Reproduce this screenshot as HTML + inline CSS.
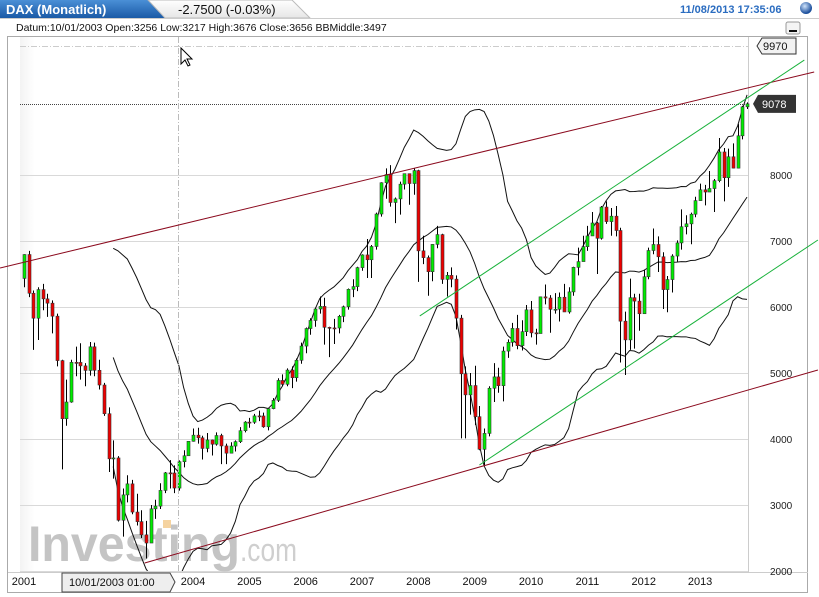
<!DOCTYPE html>
<html><head><meta charset="utf-8"><style>
body{margin:0;background:#fff;font-family:"Liberation Sans",sans-serif;}
#wrap{position:relative;width:819px;height:597px;overflow:hidden;background:#fff}
svg text{font-family:"Liberation Sans",sans-serif}
</style></head><body>
<div id="wrap">
<svg id="svg" width="819" height="597" xmlns="http://www.w3.org/2000/svg">
<defs>
<linearGradient id="tabBlue" x1="0" y1="0" x2="0" y2="1"><stop offset="0" stop-color="#4a8fd6"/><stop offset="1" stop-color="#1a5aa6"/></linearGradient>
<linearGradient id="tabGrey" x1="0" y1="0" x2="0" y2="1"><stop offset="0" stop-color="#ffffff"/><stop offset="1" stop-color="#e6e6e6"/></linearGradient>
<linearGradient id="plotBg" x1="0" y1="0" x2="1" y2="0"><stop offset="0" stop-color="#f3f3f3"/><stop offset="0.02" stop-color="#ffffff"/></linearGradient>
<radialGradient id="ball" cx="0.4" cy="0.35" r="0.6"><stop offset="0" stop-color="#cfe3fb"/><stop offset="1" stop-color="#1b4f9c"/></radialGradient>
<clipPath id="plotClip"><rect x="9" y="37" width="810" height="534"/></clipPath>
</defs>
<path d="M0 0 H148 L165 18 H0 Z" fill="url(#tabBlue)"/>
<text x="6" y="14" fill="#fff" font-size="13" font-weight="bold">DAX (Monatlich)</text>
<path d="M148 0 H292 L310 18 H165 Z" fill="url(#tabGrey)" stroke="#bbb" stroke-width="1"/>
<text x="178" y="14" fill="#111" font-size="13">-2.7500 (-0.03%)</text>
<line x1="0" y1="18.5" x2="819" y2="18.5" stroke="#ccc"/>
<text x="680" y="13" fill="#2a6cc0" font-size="11" font-weight="bold">11/08/2013 17:35:06</text>
<circle cx="806" cy="8" r="6" fill="url(#ball)"/>
<text x="16" y="31" fill="#111" font-size="10.5">Datum:10/01/2003 Open:3256 Low:3217 High:3676 Close:3656 BBMiddle:3497</text>
<rect x="7.5" y="36.5" width="800" height="556" fill="#fff" stroke="#aaa"/>
<rect x="20" y="37" width="728" height="534" fill="url(#plotBg)"/>
<line x1="748.5" y1="37" x2="748.5" y2="572" stroke="#ccc"/>
<line x1="8" y1="572.5" x2="808" y2="572.5" stroke="#ccc"/>
<rect x="786" y="22" width="14" height="12" fill="#f4f4f4" stroke="#999" rx="2"/>
<line x1="789" y1="31" x2="797" y2="31" stroke="#111" stroke-width="2"/>
<g id="grid"></g>
<g>
<rect x="163" y="520" width="8" height="8" fill="#f5d3a0"/>
<text x="28" y="561" font-size="50" font-weight="bold" fill="#c4c4c4" textLength="212" lengthAdjust="spacingAndGlyphs">Investing</text>
<text x="240" y="561" font-size="32" fill="#cfcfcf" textLength="57" lengthAdjust="spacingAndGlyphs">.com</text>
</g>
<g id="marks" clip-path="url(#plotClip)"></g>
<g id="axes"></g>
<line x1="178.5" y1="37" x2="178.5" y2="572" stroke="#bbb" stroke-dasharray="6,2,1,2"/>
<line x1="20" y1="46.5" x2="748" y2="46.5" stroke="#ccc" stroke-dasharray="6,2,1,2"/>
<path d="M181 48 L181 64 L185 60 L188 66 L190 65 L187 59 L192 59 Z" fill="#fff" stroke="#000"/>
<path d="M62 573 H170 L175 582 L170 592 H62 Z" fill="#eee" stroke="#444"/>
<text x="69" y="586" font-size="11" fill="#111">10/01/2003 01:00</text>
<path d="M757 46 L762 38 H796 V54 H762 Z" fill="#f2f2f2" stroke="#333"/>
<text x="763" y="50" font-size="11" fill="#111">9970</text>
</svg>
</div>
<script>
const NS="http://www.w3.org/2000/svg";
const yearLabels=["2001","2004","2005","2006","2007","2008","2009","2010","2011","2012","2013"];
const priceTicks=[2000,3000,4000,5000,6000,7000,8000];
const opens=[6433,6795,6208,5830,6264,6123,6058,5861,5188,4308,4560,5161,
5160,5108,5039,5397,5041,4818,4383,3700,3713,2769,3153,3320,
2893,2748,2548,2424,2942,2983,3221,3487,3485,3256,3656,3746,
3965,4058,4018,3857,3985,3921,4053,3895,3785,3893,3960,4126,
4256,4254,4350,4349,4185,4460,4586,4887,4829,5044,4929,5193,
5408,5674,5796,5970,6009,5692,5683,5682,5859,6004,6268,6309,
6597,6789,6716,6917,7409,7883,8007,7584,7638,7861,8020,7871,
8067,6851,6748,6535,6949,7097,6418,6479,6422,5831,4988,4669,
4810,4338,3844,4085,4769,4941,4808,5332,5465,5675,5415,5626,
5957,5608,5598,6154,6136,5965,5966,6148,5925,6229,6601,6688,
6914,7077,7273,7041,7514,7294,7376,7159,5785,5502,6141,6089,
5898,6458,6856,6947,6761,6264,6416,6772,6971,7216,7260,7406,
7612,7776,7742,7795,7914,8349,7959,8276,8104,8594,9033];
const closes=[6795,6208,5830,6264,6123,6058,5861,5188,4308,4560,5161,5160,
5108,5039,5397,5041,4818,4383,3700,3713,2769,3153,3320,2893,
2748,2548,2424,2942,2983,3221,3487,3485,3257,3656,3746,3965,
4058,4018,3857,3985,3921,4053,3895,3785,3893,3960,4126,4256,
4254,4350,4349,4185,4460,4586,4887,4829,5044,4929,5193,5408,
5674,5796,5970,6009,5692,5683,5682,5859,6004,6268,6309,6597,
6789,6716,6917,7409,7883,8007,7584,7638,7861,8020,7871,8067,
6851,6748,6535,6949,7097,6418,6479,6422,5831,4988,4669,4810,
4338,3844,4085,4769,4941,4808,5332,5465,5675,5415,5626,5957,
5608,5598,6154,6136,5965,5966,6148,5925,6229,6601,6688,6914,
7077,7273,7041,7514,7294,7376,7159,5785,5502,6141,6089,5898,
6458,6856,6947,6761,6264,6416,6772,6971,7216,7260,7406,7612,
7776,7742,7795,7914,8349,7959,8276,8104,8594,9033,9078];
const highs=[6800,6850,6250,6300,6350,6200,6100,5900,5200,4900,5200,5400,
5450,5150,5470,5460,5200,4850,4480,3980,3740,3250,3450,3380,
3170,2920,2760,3000,3080,3330,3500,3680,3600,3676,3830,3970,
4160,4170,4050,4090,3990,4100,4080,3930,3950,3980,4180,4270,
4320,4380,4430,4400,4460,4620,4920,4980,5070,5100,5220,5460,
5690,5830,5990,6160,6140,5700,5820,5880,6020,6280,6420,6610,
6800,7030,6940,7430,7890,8100,8150,7660,7900,8010,8020,8100,
8080,7080,6780,6950,7230,7110,6530,6600,6480,5880,5100,5000,
5110,4500,4160,4800,5150,5080,5400,5510,5760,5880,5800,6030,
6090,5670,6160,6340,6180,6210,6220,6350,6300,6610,6900,7080,
7230,7440,7290,7530,7600,7500,7530,7200,5930,6430,6200,6200,
6560,6900,7190,7070,6830,6470,6800,7010,7480,7390,7430,7670,
7870,7850,8060,7940,8560,8410,8400,8480,8770,9050,9100];
const lows=[6300,6150,5350,5500,5950,5850,5600,5100,3540,4200,4550,4950,
4900,4800,4960,4950,4750,4350,3500,3400,2750,2520,3040,2860,
2690,2500,2190,2440,2790,2940,3180,3250,3180,3217,3570,3770,
3960,3930,3690,3800,3750,3900,3620,3620,3780,3810,3940,4100,
4170,4230,4270,4170,4130,4450,4560,4800,4800,4770,4870,5140,
5300,5580,5700,5900,5430,5240,5440,5600,5770,5960,6150,6240,
6550,6440,6440,6870,7370,7640,7520,7270,7400,7780,7550,7700,
6380,6650,6170,6390,6890,6350,6160,6300,5660,4010,4010,4370,
4210,3830,3590,4040,4560,4700,4570,5230,5400,5360,5340,5560,
5540,5430,5630,6040,5610,5900,5780,5930,5900,6170,6480,6730,
6850,7090,6500,7020,7260,7080,7070,5160,4970,5350,5370,5640,
5900,6420,6800,6530,5970,5920,6220,6690,6870,7100,6950,7360,
7610,7540,7750,7440,7890,7600,7820,8100,8100,8540,9000];
const redUpper=[[-5.1,6591],[168.3,9561]];
const redLower=[[25.7,2121],[169.1,5045]];
const greenUpper=[[84.3,5864],[166.2,9742]];
const greenLower=[[97,3606],[169.1,7015]];
const lastPrice=9078;

const firstYear=2001;
const xOf=i=>24+i*4.695;
const yOf=v=>571-(v-2000)*0.066;
function mk(tag,attrs,parent){const e=document.createElementNS(NS,tag);for(const k in attrs)e.setAttribute(k,attrs[k]);parent.appendChild(e);return e;}
const grid=document.getElementById('grid'),marks=document.getElementById('marks'),axes=document.getElementById('axes');

priceTicks.forEach(v=>{
  const g=mk('line',{x1:20,x2:748,y1:Math.round(yOf(v))+0.5,y2:Math.round(yOf(v))+0.5,stroke:'#d9d9d9'},grid);
  
  
  const t=mk('text',{x:770,y:yOf(v)+4,'font-size':10,fill:'#222'},axes);
  t.textContent=v;
  
  
});
yearLabels.forEach(y=>{
  const i=(parseInt(y)-firstYear)*12;
  const t=mk('text',{x:xOf(i),y:585,'font-size':11,fill:'#111','text-anchor':'middle'},axes);
  t.textContent=y;
  
  
});

const up=[],mid=[],lo=[];
for(let i=19;i<closes.length;i++){
  let s=0;for(let j=i-19;j<=i;j++)s+=closes[j];const m=s/20;
  let q=0;for(let j=i-19;j<=i;j++)q+=(closes[j]-m)**2;const sd=Math.sqrt(q/20);
  up.push([xOf(i),yOf(m+2*sd)]);mid.push([xOf(i),yOf(m)]);lo.push([xOf(i),yOf(m-2*sd)]);
}
[['bb-upper',up],['bb-middle',mid],['bb-lower',lo]].forEach(([n,pts])=>{
  const p=mk('polyline',{points:pts.map(p=>p.join(',')).join(' '),fill:'none',stroke:'#111','stroke-width':1},marks);
  
  
});

const lp=mk('line',{x1:20,x2:748,y1:Math.round(yOf(lastPrice))+0.5,y2:Math.round(yOf(lastPrice))+0.5,stroke:'#444','stroke-dasharray':'1,1'},marks);



for(let i=0;i<closes.length;i++){
  const x=xOf(i),o=opens[i],c=closes[i];
  const w=mk('line',{x1:Math.round(x)+0.5,x2:Math.round(x)+0.5,y1:yOf(highs[i]),y2:yOf(lows[i]),stroke:'#000','stroke-width':1},marks);
  
  
  const top=yOf(Math.max(o,c)),bot=yOf(Math.min(o,c));
  const b=mk('rect',{x:Math.round(x)-1,y:top,width:3,height:Math.max(1,bot-top),fill:c>=o?'#00ee00':'#ee0000',stroke:'#333','stroke-width':0.6},marks);
  
  
}

function extend(seg){const [a,b]=seg;return {x1:xOf(a[0]),y1:yOf(a[1]),x2:xOf(b[0]),y2:yOf(b[1])};}
[['trendline-red-upper',redUpper,'#8b0a1e'],['trendline-red-lower',redLower,'#8b0a1e'],['trendline-green-upper',greenUpper,'#19b23b'],['trendline-green-lower',greenLower,'#19b23b']].forEach(([n,seg,col])=>{
  const e=extend(seg);
  const l=mk('line',Object.assign(e,{stroke:col,'stroke-width':1}),document.getElementById('svg'));
  
  
});

const ly=yOf(lastPrice);
const tag=mk('path',{d:`M753 ${ly} L758 ${ly-9} H796 V${ly+9} H758 Z`,fill:'#333'},axes);


const tt=mk('text',{x:762,y:ly+4,'font-size':11,fill:'#fff'},axes);
tt.textContent=String(lastPrice);


</script>
</body></html>
